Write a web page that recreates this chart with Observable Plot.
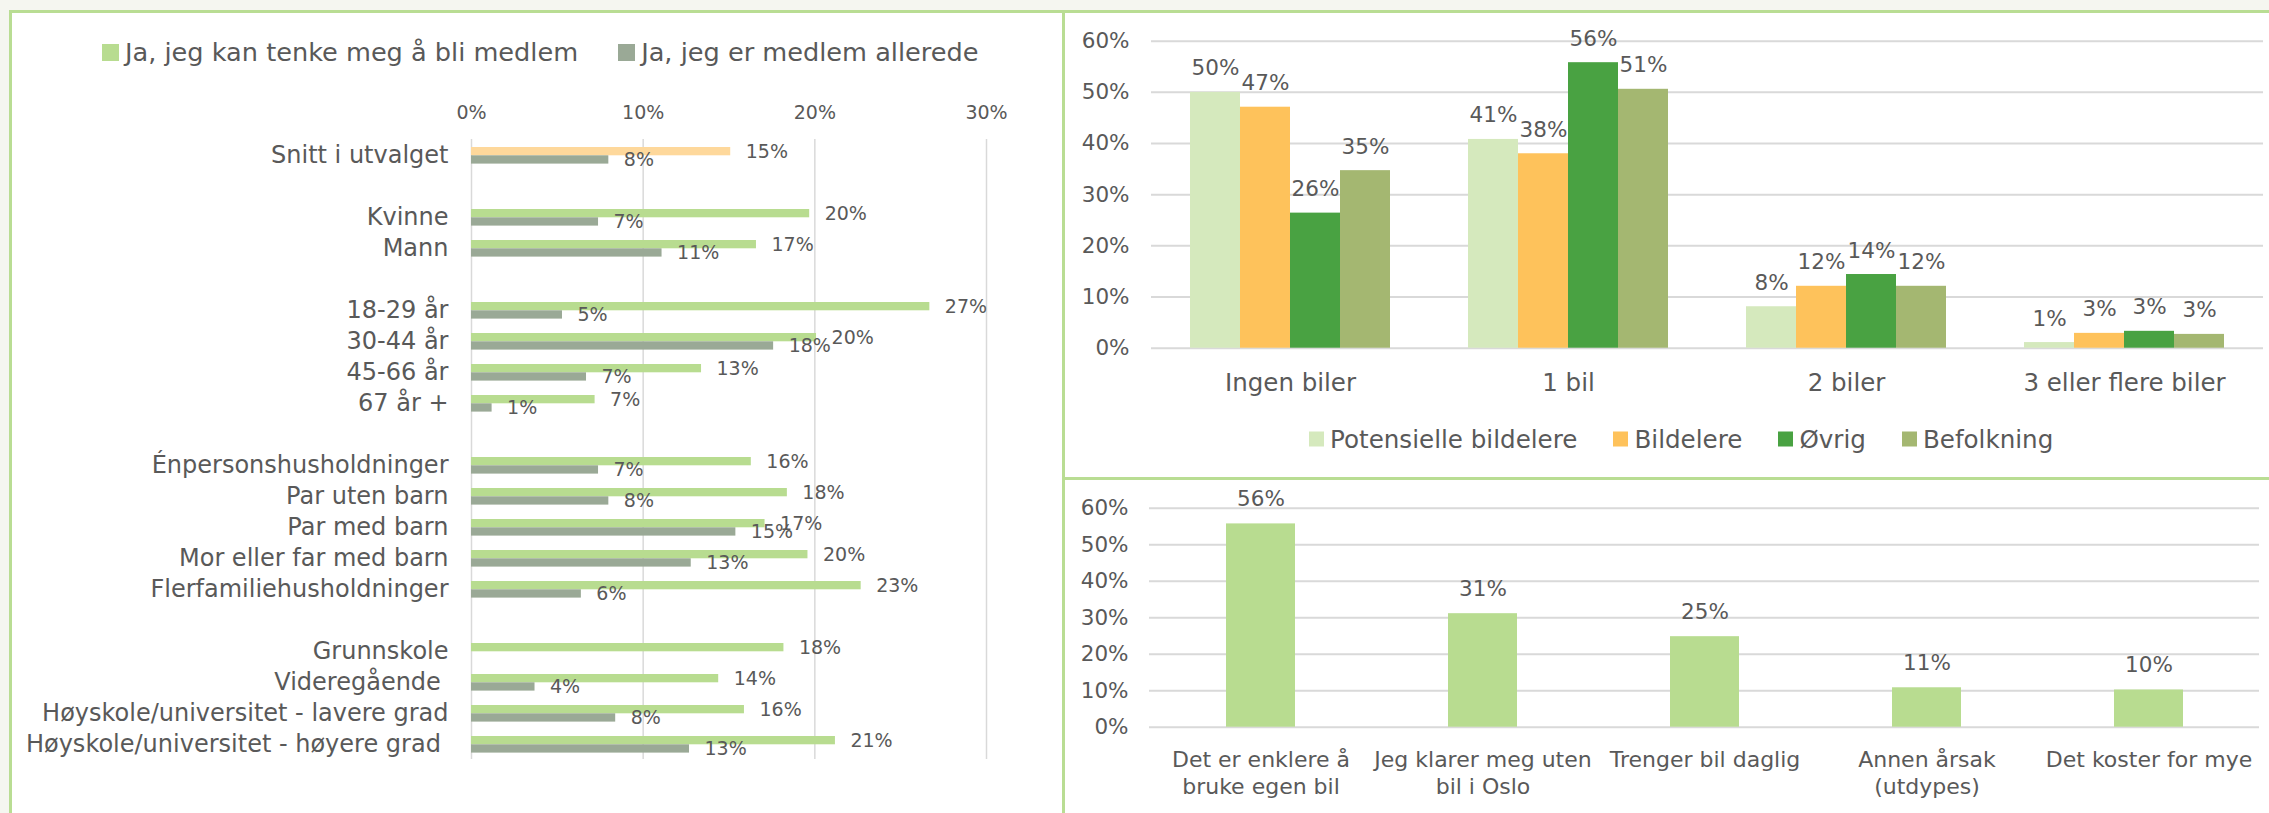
<!DOCTYPE html>
<html>
<head>
<meta charset="utf-8">
<script src="https://cdn.jsdelivr.net/npm/d3@7"></script>
<script src="https://cdn.jsdelivr.net/npm/@observablehq/plot@0.6"></script>
<style>
html, body { margin: 0; padding: 0; background: #f5f6f0; }
body { width: 2269px; height: 813px; position: relative; overflow: hidden; font-family: "DejaVu Sans", sans-serif; color: #595959; }
.panel { position: absolute; background: #fff; }
#pl { left: 9px; top: 10px; width: 1050px; height: 800px; border-left: 3px solid #b9dd93; border-top: 3px solid #b9dd93; border-right: 3px solid #b9dd93; }
#prt { left: 1065px; top: 10px; width: 1204px; height: 464px; border-top: 3px solid #b9dd93; border-bottom: 3px solid #b9dd93; }
#prb { left: 1065px; top: 480px; width: 1204px; height: 333px; }
.chart { position: absolute; }
.chart svg { display: block; overflow: visible; }
.legend { position: absolute; display: flex; align-items: center; white-space: nowrap; }
.legend .item { display: flex; align-items: center; }
.legend .sw { display: inline-block; }
</style>
</head>
<body>
<div class="panel" id="pl"></div>
<div class="panel" id="prt"></div>
<div class="panel" id="prb"></div>
<div class="legend" id="legL" style="left:102px; top:52px; transform:translateY(-50%); gap:40px; font-size:25.6px;"></div>
<div class="legend" id="legR" style="left:1309px; top:439px; transform:translateY(-50%); gap:36px; font-size:24.6px;"></div>
<div class="chart" id="cL" style="left:12px; top:13px;"></div>
<div class="chart" id="cRT" style="left:1065px; top:13px;"></div>
<div class="chart" id="cRB" style="left:1065px; top:480px;"></div>
<script>
// ---------- Left chart data ----------
const memberSeries = ["Ja, jeg kan tenke meg å bli medlem", "Ja, jeg er medlem allerede"];
const memberCategories = [
  "Snitt i utvalget",
  "Kvinne", "Mann",
  "18-29 år", "30-44 år", "45-66 år", "67 år +",
  "Énpersonshusholdninger", "Par uten barn", "Par med barn", "Mor eller far med barn", "Flerfamiliehusholdninger",
  "Grunnskole", "Videregående\u00a0", "Høyskole/universitet - lavere grad", "Høyskole/universitet - høyere grad\u00a0"
];
const memberGroup = [0, 1, 1, 2, 2, 2, 2, 3, 3, 3, 3, 3, 4, 4, 4, 4];
const kanTenkeSeg = [15.1, 19.7, 16.6, 26.7, 20.1, 13.4, 7.2, 16.3, 18.4, 17.1, 19.6, 22.7, 18.2, 14.4, 15.9, 21.2];
const erMedlem = [8.0, 7.4, 11.1, 5.3, 17.6, 6.7, 1.2, 7.4, 8.0, 15.4, 12.8, 6.4, null, 3.7, 8.4, 12.7];
const memberTicks = [0, 10, 20, 30];

// ---------- Top right chart data ----------
const carCategories = ["Ingen biler", "1 bil", "2 biler", "3 eller flere biler"];
const carSeries = ["Potensielle bildelere", "Bildelere", "Øvrig", "Befolkning"];
const potensielle = [50.0, 40.8, 8.1, 1.1];
const bildelere = [47.1, 38.0, 12.1, 2.9];
const ovrig = [26.4, 55.8, 14.4, 3.3];
const befolkning = [34.7, 50.6, 12.1, 2.7];
const pctTicks = [0, 10, 20, 30, 40, 50, 60];

// ---------- Bottom right chart data ----------
const reasons = ["Det er enklere å\nbruke egen bil", "Jeg klarer meg uten\nbil i Oslo", "Trenger bil daglig", "Annen årsak\n(utdypes)", "Det koster for mye"];
const reasonValues = [55.7, 31.1, 24.8, 10.8, 10.2];

// ---------- Styles ----------
const TEXT = "#595959";
const GRID = "#d9d9d9";
const cGreen = "#b8dc90", cOrange = "#fed89b", cGray = "#9aa996";
const carColors = ["#d5e9bd", "#fec25b", "#49a242", "#a4b771"];
const FONT = "'DejaVu Sans', sans-serif";
const pct = v => Math.round(v) + "%";

// ---------- Legends ----------
function legend(el, names, colors, sw) {
  for (let i = 0; i < names.length; i++) {
    const it = document.createElement("div"); it.className = "item";
    const s = document.createElement("span"); s.className = "sw";
    s.style.width = sw + "px"; s.style.height = sw + "px"; s.style.background = colors[i]; s.style.marginRight = "6px";
    const t = document.createElement("span"); t.textContent = names[i];
    it.appendChild(s); it.appendChild(t); el.appendChild(it);
  }
}
legend(document.getElementById("legL"), memberSeries, [cGreen, cGray], 17);
legend(document.getElementById("legR"), carSeries, carColors, 15);

// ---------- Left chart ----------
const yDomain = [];
memberCategories.forEach((c, i) => {
  if (i > 0 && memberGroup[i] !== memberGroup[i - 1]) yDomain.push("gap" + i);
  yDomain.push(c);
});
const memberRows = memberCategories.map((cat, i) => ({cat, kan: kanTenkeSeg[i], er: erMedlem[i], first: i === 0}));

const left = Plot.plot({
  width: 1050, height: 800,
  marginLeft: 459, marginRight: 76, marginTop: 126, marginBottom: 54,
  style: {fontFamily: FONT, fontSize: "19px", color: TEXT, background: "transparent"},
  x: {domain: [0, 30], axis: "top", ticks: memberTicks, tickFormat: d => d + "%", tickSize: 0, tickPadding: 21, label: null},
  y: {domain: yDomain, padding: 0, axis: null},
  marks: [
    Plot.ruleX(memberTicks, {stroke: GRID, strokeWidth: 1.5}),
    Plot.barX(memberRows, {filter: d => d.first, x: "kan", y: "cat", fill: cOrange, insetTop: 8, insetBottom: 14.7}),
    Plot.barX(memberRows, {filter: d => !d.first, x: "kan", y: "cat", fill: cGreen, insetTop: 8, insetBottom: 14.7}),
    Plot.barX(memberRows, {filter: d => d.er != null, x: "er", y: "cat", fill: cGray, insetTop: 16.3, insetBottom: 6.4}),
    Plot.text(memberRows, {x: "kan", y: "cat", text: d => pct(d.kan), dx: 15, dy: -3.5, textAnchor: "start", fontSize: 19, fill: TEXT}),
    Plot.text(memberRows, {filter: d => d.er != null, x: "er", y: "cat", text: d => pct(d.er), dx: 15, dy: 5, textAnchor: "start", fontSize: 19, fill: TEXT}),
    Plot.text(memberRows, {y: "cat", text: "cat", frameAnchor: "left", textAnchor: "end", dx: -23, fontSize: 24, fill: TEXT})
  ]
});
document.getElementById("cL").appendChild(left);

// ---------- Top right chart ----------
const carValues = [potensielle, bildelere, ovrig, befolkning];
const carRows = carCategories.flatMap((cat, i) => carSeries.map((series, j) => ({cat, series, value: carValues[j][i]})));

const rt = Plot.plot({
  width: 1204, height: 464,
  marginLeft: 86, marginRight: 6, marginTop: 27.7, marginBottom: 129.3,
  style: {fontFamily: FONT, fontSize: "21.5px", color: TEXT, background: "transparent"},
  facet: {data: carRows, x: "cat"},
  fx: {domain: carCategories, padding: 0, axis: "bottom", tickSize: 0, tickPadding: 25, label: null},
  x: {domain: carSeries, paddingInner: 0, paddingOuter: 0.75, axis: null},
  y: {domain: [0, 60], ticks: pctTicks, tickFormat: d => d + "%", tickSize: 0, tickPadding: 22, label: null},
  color: {domain: carSeries, range: carColors},
  marks: [
    Plot.ruleY(pctTicks, {stroke: GRID, strokeWidth: 2}),
    Plot.barY(carRows, {x: "series", y: "value", fill: "series"}),
    Plot.text(carRows, {x: "series", y: "value", text: d => pct(d.value), lineAnchor: "bottom", dy: -17, fontSize: 21.5, fill: TEXT})
  ]
});
rt.querySelectorAll('[aria-label^="fx-axis"]').forEach(g => { g.setAttribute("font-size", "24.5"); g.style.fontSize = "24.5px"; });
document.getElementById("cRT").appendChild(rt);

// ---------- Bottom right chart ----------
const reasonRows = reasons.map((reason, i) => ({reason, value: reasonValues[i]}));
const rb = Plot.plot({
  width: 1204, height: 333,
  marginLeft: 84, marginRight: 10, marginTop: 27.7, marginBottom: 86.3,
  style: {fontFamily: FONT, fontSize: "21.5px", color: TEXT, background: "transparent"},
  x: {domain: reasons, paddingInner: 0.69, paddingOuter: 0.345, axis: null},
  y: {domain: [0, 60], ticks: pctTicks, tickFormat: d => d + "%", tickSize: 0, tickPadding: 21, label: null},
  marks: [
    Plot.ruleY(pctTicks, {stroke: GRID, strokeWidth: 2}),
    Plot.barY(reasonRows, {x: "reason", y: "value", fill: cGreen}),
    Plot.text(reasonRows, {x: "reason", y: "value", text: d => pct(d.value), lineAnchor: "bottom", dy: -18, fontSize: 21.5, fill: TEXT}),
    Plot.text(reasonRows, {x: "reason", text: "reason", frameAnchor: "bottom", lineAnchor: "top", dy: 19.5, lineHeight: 1.27, fontSize: 22, fill: TEXT})
  ]
});
document.getElementById("cRB").appendChild(rb);
</script>
</body>
</html>
